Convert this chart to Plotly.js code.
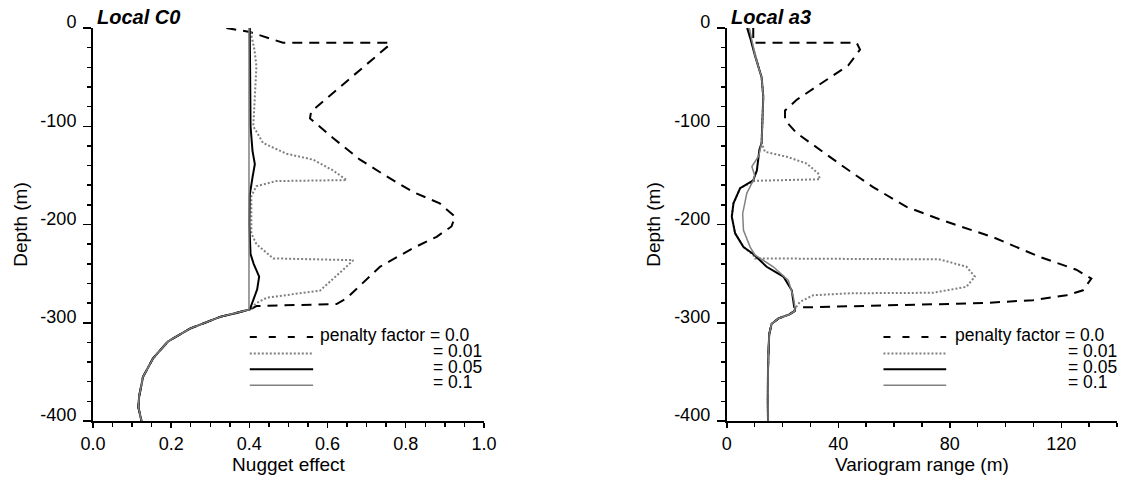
<!DOCTYPE html>
<html>
<head>
<meta charset="utf-8">
<script src="https://cdn.plot.ly/plotly-3.0.1.min.js"></script>
<style>html,body{margin:0;padding:0;background:#fff;}#chart{width:1124px;height:478px;}</style>
</head>
<body>
<div id="chart"></div>
<script>
// ---------- Data: Local C0 (nugget effect) ----------
const c0Depth_pf00 = [0,-4,-15,-15,-17,-85,-92,-112,-134,-151,-167,-178.5,-192,-202,-212.5,-224,-243,-262,-275,-281,-283,-286.5];
const c0_pf00      = [0.341,0.401,0.486,0.759,0.759,0.558,0.555,0.614,0.683,0.751,0.819,0.887,0.926,0.917,0.879,0.819,0.734,0.683,0.649,0.623,0.418,0.401];

const c0Depth_pf001 = [0,-22,-39,-73,-100,-117,-128,-134,-145,-154.8,-155.8,-161,-171,-209,-220,-234.5,-236.3,-246,-255,-267.5,-270,-272,-274.6,-280,-285.6];
const c0_pf001      = [0.401,0.413,0.418,0.414,0.41,0.435,0.495,0.563,0.614,0.649,0.469,0.418,0.405,0.405,0.418,0.461,0.666,0.64,0.614,0.58,0.529,0.486,0.444,0.418,0.405];

const c0Depth_pf005 = [0,-50,-100,-125,-138.6,-152,-170,-200,-230,-240,-253,-266,-276,-286.5];
const c0_pf005      = [0.401,0.402,0.403,0.408,0.414,0.408,0.401,0.400,0.403,0.411,0.425,0.42,0.41,0.401];

const c0Depth_pf01 = [0,-286.5];
const c0_pf01      = [0.399,0.399];

const c0TailDepth = [-286.5,-290,-294,-306,-319,-336,-355,-375,-386,-400];
const c0Tail      = [0.401,0.367,0.325,0.248,0.192,0.154,0.128,0.118,0.116,0.124];

// ---------- Data: Local a3 (variogram range) ----------
const a3Depth_pf00 = [0,-15,-15,-22,-38,-55,-73,-84,-94,-107,-124,-141,-162,-182,-196,-213,-233,-246,-255,-267,-272,-277,-280,-282,-283,-284.5];
const a3_pf00      = [9.5,9.5,46.6,47.8,43.6,34.6,25.1,20.9,20.9,25.1,33.4,41.8,52.5,64.5,77.6,95.6,112.3,125.4,130.8,127.8,121.9,109.9,92,62,38,25];

const a3Depth_pf001 = [0,-10,-29,-50,-70,-90,-117,-126,-131,-138,-148,-154,-155.5,-163,-178.5,-192,-209,-223,-231,-234.5,-235.5,-243,-253,-263.4,-269.5,-270,-272,-278.7,-285.4];
const a3_pf001      = [7.5,8.5,10.2,12.5,13.1,12.9,12.5,13.7,21.5,28.7,32.8,33.4,10.1,4.8,2.4,1.8,3.0,6.0,9.5,10.1,76.4,86,89,86,74,44.2,31,26.3,24.5];

const a3Depth_pf005 = [0,-10,-29,-50,-70,-90,-117,-124,-145,-155,-163,-178.5,-192,-209,-223,-230,-243,-253,-267,-284];
const a3_pf005      = [7.3,8.4,10.2,12.5,13.1,12.9,12.5,11.7,10.8,9.5,4.8,2.4,1.8,3.0,6.0,9.5,14.3,20.3,23.3,24.2];

const a3Depth_pf01 = [0,-10,-29,-50,-70,-90,-117,-130,-136,-141,-150,-155,-168,-189,-206,-223,-231,-243,-257,-274,-285];
const a3_pf01      = [8.1,8.8,10.2,12.5,13.1,12.9,12.5,11.5,10.1,9.0,10.0,9.55,7.2,5.7,6.0,8.4,10.1,16.7,22.1,23.9,24.5];

const a3TailDepth = [-285,-288,-291.5,-295.6,-301,-312,-346,-380,-400];
const a3Tail      = [24.5,24.4,22.5,18.6,16.1,15.2,14.8,14.7,14.8];

// ---------- Labels ----------
const seriesNames = ['penalty factor = 0.0', '= 0.01', '= 0.05', '= 0.1'];
const yTickVals = [0, -100, -200, -300, -400];
const yTickText = ['0', '-100', '-200', '-300', '-400'];
const panelTitles = ['Local C0', 'Local a3'];
const xTitles = ['Nugget effect', 'Variogram range (m)'];
const yTitle = 'Depth (m)';

// ---------- Styles ----------
const FONT = 'Liberation Sans, Arial, Helvetica, sans-serif';
const styles = [
  {color: '#000000', width: 2, dash: '10px,7px'},
  {color: '#808080', width: 2, dash: '2px,2px'},
  {color: '#000000', width: 2, dash: 'solid'},
  {color: '#808080', width: 1.5, dash: 'solid'}
];
const legendDash = ['7px,12px', '2px,2px', 'solid', 'solid'];

function mk(x, y, i, xa, ya) {
  return {x: x, y: y, type: 'scatter', mode: 'lines', name: seriesNames[i],
          xaxis: xa, yaxis: ya, showlegend: false, line: styles[i], hoverinfo: 'skip'};
}
const leftX = [c0_pf00, c0_pf001, c0_pf005, c0_pf01];
const leftY = [c0Depth_pf00, c0Depth_pf001, c0Depth_pf005, c0Depth_pf01];
const rightX = [a3_pf00, a3_pf001, a3_pf005, a3_pf01];
const rightY = [a3Depth_pf00, a3Depth_pf001, a3Depth_pf005, a3Depth_pf01];

const traces = [];
for (let i = 0; i < 4; i++) {
  traces.push(mk(leftX[i].concat(c0Tail), leftY[i].concat(c0TailDepth), i, 'x', 'y'));
}
for (let i = 0; i < 4; i++) {
  traces.push(mk(rightX[i].concat(a3Tail), rightY[i].concat(a3TailDepth), i, 'x2', 'y2'));
}

// ---------- Layout ----------
const M = {l: 93.3, r: 7.3, t: 28, b: 57.3};
const W = 1124, H = 478;
const PW = W - M.l - M.r, PH = H - M.t - M.b;
const X = px => (px - M.l) / PW;
const Y = py => (H - M.b - py) / PH;

function xaxisCfg(domain, range, dtick, minorDtick, fmt, title) {
  return {domain: domain, range: range, dtick: dtick, tick0: 0, tickformat: fmt,
    ticks: 'outside', ticklen: 5, tickwidth: 1.5, tickcolor: '#000',
    minor: {dtick: minorDtick, tick0: 0, ticks: 'outside', ticklen: 4, tickwidth: 1.5, tickcolor: '#000'},
    showline: true, linewidth: 2, linecolor: '#000', showgrid: false, zeroline: false,
    tickfont: {family: FONT, size: 18, color: '#000'},
    title: {text: title, font: {family: FONT, size: 19, color: '#000'}, standoff: 3},
    fixedrange: true};
}
function yaxisCfg(anchor) {
  return {domain: [0, 1], range: [-400, 0], anchor: anchor,
    tickvals: yTickVals, ticktext: yTickText,
    ticks: 'outside', ticklen: 8, tickwidth: 1.5, tickcolor: '#000',
    minor: {dtick: 20, tick0: 0, ticks: 'outside', ticklen: 4, tickwidth: 1.5, tickcolor: '#000'},
    showline: true, linewidth: 2, linecolor: '#000', showgrid: false, zeroline: false,
    tickfont: {family: FONT, size: 18, color: '#000'},
    ticklabelstandoff: 3, ticklabelshift: -6,
    title: {text: yTitle, font: {family: FONT, size: 19, color: '#000'}, standoff: 8},
    fixedrange: true};
}

const xa1 = xaxisCfg([0, (484 - M.l) / PW], [0, 1], 0.2, 0.05, '.1f', xTitles[0]);
xa1.anchor = 'y';
const xa2 = xaxisCfg([(726.7 - M.l) / PW, 1], [0, 140], 40, 10, 'd', xTitles[1]);
xa2.anchor = 'y2';

const shapes = [];
const annotations = [];
const legendRowsY = [336.7, 353.3, 369, 385];
const legendTextY = [335, 350.5, 366.5, 382];
const panels = [
  {lineX0: 250, lineX1: 313.3, textX: 318.3, eqX: 431.5, titleX: 95},
  {lineX0: 883.3, lineX1: 946, textX: 952.7, eqX: 1065.5, titleX: 729.3}
];
panels.forEach((p, k) => {
  for (let i = 0; i < 4; i++) {
    shapes.push({type: 'line', xref: 'paper', yref: 'paper',
      x0: X(p.lineX0), x1: X(p.lineX1), y0: Y(legendRowsY[i]), y1: Y(legendRowsY[i]),
      line: {color: styles[i].color, width: styles[i].width, dash: legendDash[i]}});
    annotations.push({xref: 'paper', yref: 'paper', x: X(i === 0 ? p.textX : p.eqX), y: Y(legendTextY[i]),
      xanchor: 'left', yanchor: 'middle', showarrow: false, text: seriesNames[i],
      font: {family: FONT, size: 17.5, color: '#000'}});
  }
  annotations.push({xref: 'paper', yref: 'paper', x: X(p.titleX), y: Y(16.7),
    xanchor: 'left', yanchor: 'middle', showarrow: false,
    text: '<b><i>' + panelTitles[k] + '</i></b>',
    font: {family: FONT, size: 20, color: '#000'}});
});

const layout = {
  width: W, height: H, margin: M,
  paper_bgcolor: '#fff', plot_bgcolor: '#fff',
  showlegend: false,
  xaxis: xa1, yaxis: yaxisCfg('x'),
  xaxis2: xa2, yaxis2: yaxisCfg('x2'),
  shapes: shapes, annotations: annotations,
  font: {family: FONT, color: '#000'}
};

Plotly.newPlot('chart', traces, layout, {staticPlot: true, displayModeBar: false});
</script>
</body>
</html>
